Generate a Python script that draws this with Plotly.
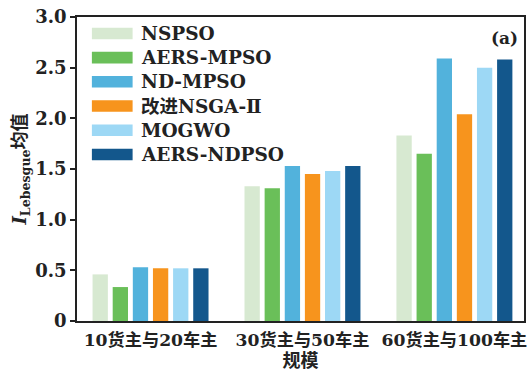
import plotly.graph_objects as go

# Problem scales (x categories)
categories = ["10货主与20车主", "30货主与50车主", "60货主与100车主"]

# Mean Lebesgue indicator per algorithm
algorithms = ["NSPSO", "AERS-MPSO", "ND-MPSO", "改进NSGA-Ⅱ", "MOGWO", "AERS-NDPSO"]
nspso = [0.46, 1.33, 1.83]
aers_mpso = [0.335, 1.31, 1.65]
nd_mpso = [0.53, 1.53, 2.59]
nsga2_improved = [0.52, 1.45, 2.04]
mogwo = [0.52, 1.48, 2.50]
aers_ndpso = [0.52, 1.53, 2.58]

y_ticks = [0, 0.5, 1.0, 1.5, 2.0, 2.5, 3.0]
y_tick_text = ["0", "0.5", "1.0", "1.5", "2.0", "2.5", "3.0"]

series = [nspso, aers_mpso, nd_mpso, nsga2_improved, mogwo, aers_ndpso]
colors = ["#d7e9d1", "#6abf59", "#52b2dc", "#f7941d", "#9dd8f5", "#13578c"]

FONT = "DejaVu Serif, Noto Sans CJK SC, serif"
x_pos = list(range(len(categories)))

fig = go.Figure()
for name, vals, col in zip(algorithms, series, colors):
    fig.add_trace(go.Bar(
        x=x_pos, y=vals, name=name,
        marker=dict(color=col, line=dict(width=0)),
        showlegend=False,
    ))

# Legend drawn by hand: wide colour swatches with bold labels
row_top = 0.946
row_step = 0.0796
sw_h = 0.019
shapes = []
annotations = []
for i, (name, col) in enumerate(zip(algorithms, colors)):
    yc = row_top - i * row_step
    shapes.append(dict(type="rect", xref="paper", yref="paper",
                       x0=0.0333, x1=0.1244, y0=yc - sw_h, y1=yc + sw_h,
                       fillcolor=col, line=dict(width=0)))
    annotations.append(dict(text=f"<b>{name}</b>", xref="paper", yref="paper",
                            x=0.138, y=yc, xanchor="left", yanchor="middle",
                            showarrow=False,
                            font=dict(family=FONT, size=18.5, color="#222")))

annotations.append(dict(text="<b>(a)</b>", xref="paper", yref="paper",
                        x=0.99, y=0.93, xanchor="right", yanchor="middle",
                        showarrow=False,
                        font=dict(family=FONT, size=17, color="#222")))

fig.update_layout(
    width=530, height=374,
    margin=dict(l=77, r=3, t=17, b=53),
    paper_bgcolor="white", plot_bgcolor="white",
    barmode="group", bargap=0.205, bargroupgap=0.24,
    shapes=shapes, annotations=annotations,
    font=dict(family=FONT, size=18, color="#222"),
)

fig.update_xaxes(
    range=[-0.484, 2.458],
    tickmode="array", tickvals=x_pos,
    ticktext=[f"<b>{c}</b>" for c in categories],
    ticks="", showgrid=False, zeroline=False, ticklabelstandoff=3,
    showline=True, linecolor="#222", linewidth=1.5, mirror=True,
    tickfont=dict(family=FONT, size=17.2, color="#222"),
    title=dict(text="<b>规模</b>", standoff=3,
               font=dict(family=FONT, size=18, color="#222")),
)
fig.update_yaxes(
    range=[0, 3.0],
    tickmode="array", tickvals=y_ticks, ticktext=[f"<b>{t}</b>" for t in y_tick_text],
    ticks="outside", ticklen=5, tickwidth=1.5, tickcolor="#222",
    showgrid=False, zeroline=False,
    showline=True, linecolor="#222", linewidth=1.5, mirror=True,
    tickfont=dict(family=FONT, size=18, color="#222"),
    title=dict(text="<b><i>I</i><sub>Lebesgue</sub>均值</b>", standoff=4,
               font=dict(family=FONT, size=18, color="#222")),
)

fig.write_html("out.html")
